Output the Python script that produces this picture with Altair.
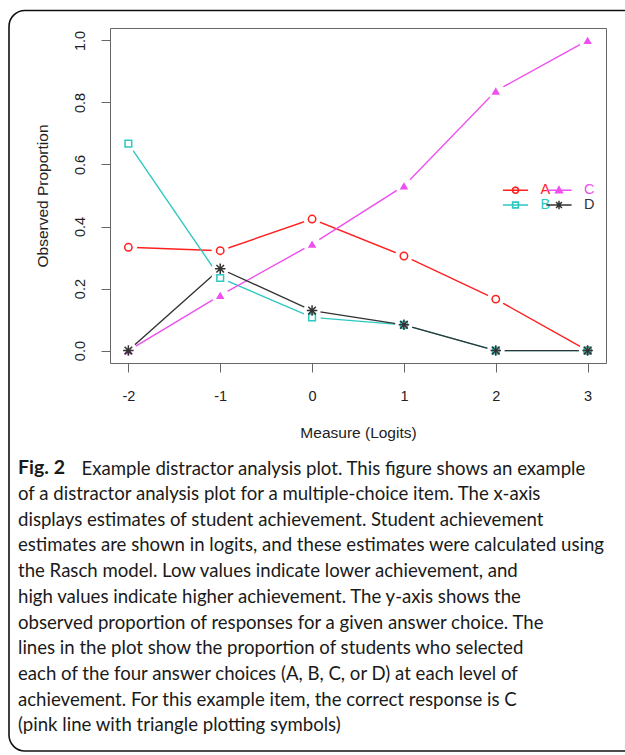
import altair as alt
import pandas as pd

# ---------------- data ----------------
measures = [-2, -1, 0, 1, 2, 3]
prop_A = [0.333, 0.322, 0.424, 0.305, 0.166, 0.0]
prop_B = [0.667, 0.234, 0.107, 0.083, 0.0, 0.0]
prop_C = [0.0, 0.178, 0.343, 0.531, 0.837, 1.0]
prop_D = [0.0, 0.264, 0.129, 0.083, 0.0, 0.0]
series_names = ["A", "B", "C", "D"]
x_ticks = [-2, -1, 0, 1, 2, 3]
y_ticks = [0.0, 0.2, 0.4, 0.6, 0.8, 1.0]

caption_bold = "Fig. 2"
caption_first = "Example distractor analysis plot. This figure shows an example"
caption_rest = [
    "of a distractor analysis plot for a multiple-choice item. The x-axis",
    "displays estimates of student achievement. Student achievement",
    "estimates are shown in logits, and these estimates were calculated using",
    "the Rasch model. Low values indicate lower achievement, and",
    "high values indicate higher achievement. The y-axis shows the",
    "observed proportion of responses for a given answer choice. The",
    "lines in the plot show the proportion of students who selected",
    "each of the four answer choices (A, B, C, or D) at each level of",
    "achievement. For this example item, the correct response is C",
    "(pink line with triangle plotting symbols)",
]

rows = []
for name, vals in zip(series_names, [prop_A, prop_B, prop_C, prop_D]):
    for m, v in zip(measures, vals):
        rows.append({"series": name, "measure": m, "prop": v})
df = pd.DataFrame(rows)

# ---------------- styles ----------------
colors = {"A": "#FF2020", "B": "#2EC8C2", "C": "#EE4FEE", "D": "#333333"}
color_range = [colors[s] for s in series_names]
ASTERISK = "M0,-1V1M-1,0H1M-0.72,-0.72L0.72,0.72M-0.72,0.72L0.72,-0.72"
marker_shape = {"A": "circle", "B": "square", "C": "triangle-up", "D": ASTERISK}
marker_size = {"A": 55, "B": 45, "C": 72, "D": 110}

# legend symbols: a short line with the marker on it (hollow markers drawn as rings)
LINE = "M-1.8,0H1.8"
RING = ("M-0.44,0A0.44,0.44 0 1,1 0.44,0A0.44,0.44 0 1,1 -0.44,0"
        "M-0.42,0A0.42,0.42 0 1,0 0.42,0A0.42,0.42 0 1,0 -0.42,0")
SQ_RING = "M-0.42,-0.42H0.42V0.42H-0.42ZM-0.4,-0.4V0.4H0.4V-0.4Z"
TRI = "M0,-0.5L0.48,0.35L-0.48,0.35Z"
STAR = "M0,-0.6V0.6M-0.6,0H0.6M-0.42,-0.42L0.42,0.42M-0.42,0.42L0.42,-0.42"
leg_shape_expr = (
    "datum.value === 'A' ? '" + LINE + RING + "' : "
    "datum.value === 'B' ? '" + LINE + SQ_RING + "' : "
    "datum.value === 'C' ? '" + LINE + TRI + "' : "
    "'" + LINE + STAR + "'"
)

FONT = "Liberation Sans"
TXT = "#222222"
CAP_FONT = "Lato"
CAP_COLOR = "#1a1a1a"

x_enc = alt.X(
    "measure:Q",
    scale=alt.Scale(domain=[-2.2, 3.2], nice=False, zero=False),
    axis=alt.Axis(values=x_ticks, title="Measure (Logits)", grid=False, domain=False,
                  labelExpr="datum.value < 0 ? '-' + abs(datum.value) : '' + datum.value",
                  tickSize=9, tickColor="#666666", labelPadding=17, titlePadding=23,
                  labelFont=FONT, titleFont=FONT, labelColor=TXT, titleColor=TXT,
                  titleFontWeight="normal", labelFontSize=14.5, titleFontSize=15.5),
)
y_enc = alt.Y(
    "prop:Q",
    scale=alt.Scale(domain=[-0.04, 1.04], nice=False, zero=False),
    axis=alt.Axis(values=y_ticks, format=".1f", title="Observed Proportion", grid=False,
                  domain=False, tickSize=9, tickColor="#666666", labelAngle=270,
                  labelAlign="center", labelBaseline="bottom", labelPadding=14,
                  titlePadding=22, labelFont=FONT, titleFont=FONT, labelColor=TXT,
                  titleColor=TXT, titleFontWeight="normal",
                  labelFontSize=14.5, titleFontSize=15.5),
)

color_scale = alt.Scale(domain=series_names, range=color_range)

legend = alt.Legend(
    orient="none", legendX=397.5, legendY=154, columns=2, title=None, padding=0,
    symbolSize=196, symbolStrokeWidth=1.5, labelOffset=17, columnPadding=-7.5,
    rowPadding=-2, labelFont=FONT, labelFontSize=14.5, symbolOpacity=1,
    symbolType=alt.ExprRef(expr=leg_shape_expr),
    labelColor=alt.ExprRef(expr="scale('color', datum.value)"),
)

base = alt.Chart(df)

lines = base.mark_line(strokeWidth=1.4).encode(
    x=x_enc, y=y_enc,
    color=alt.Color("series:N", scale=color_scale, legend=legend),
)

halos = base.mark_circle(color="white", size=300, opacity=1).encode(x=x_enc, y=y_enc)

point_layers = []
for s in series_names:
    point_layers.append(
        base.transform_filter(alt.datum.series == s).mark_point(
            shape=marker_shape[s], size=marker_size[s], filled=(s == "C"),
            strokeWidth=1.5 if s != "C" else 1, opacity=1,
        ).encode(
            x=x_enc, y=y_enc,
            color=alt.Color("series:N", scale=color_scale, legend=None),
        )
    )

border = alt.Chart(alt.Data(values=[{}])).mark_rect(
    fill="transparent", stroke="#111111", strokeWidth=1.6, cornerRadius=16
).encode(x=alt.value(-101), x2=alt.value(700), y=alt.value(-17.5), y2=alt.value(723))

# rest of the caption's first line, following the bold "Fig. 2"
first_line = alt.Chart(alt.Data(values=[{"t": caption_first}])).mark_text(
    align="left", baseline="top", font=CAP_FONT, fontSize=18.6, color=CAP_COLOR
).encode(x=alt.value(-28.5), y=alt.value(431.5), text="t:N")

chart = alt.layer(border, lines, halos, *point_layers, first_line).properties(
    width=496,
    height=335,
    background="white",
    padding={"left": 110, "top": 28, "right": 19, "bottom": 392},
    autosize=alt.AutoSizeParams(type="none"),
    title=alt.TitleParams(
        text=caption_bold, subtitle=caption_rest, orient="bottom", anchor="start", frame="group",
        dx=-92, offset=-293, font=CAP_FONT, fontSize=19.5, fontWeight="bold", color=CAP_COLOR,
        subtitleFont=CAP_FONT, subtitleFontSize=18.6, subtitleColor=CAP_COLOR,
        subtitleLineHeight=25.7, subtitlePadding=6.7, subtitleFontWeight="normal",
    ),
).configure_view(stroke="#666666", strokeWidth=1)

chart.save("out.html", embed_options={"renderer": "svg", "actions": False})
